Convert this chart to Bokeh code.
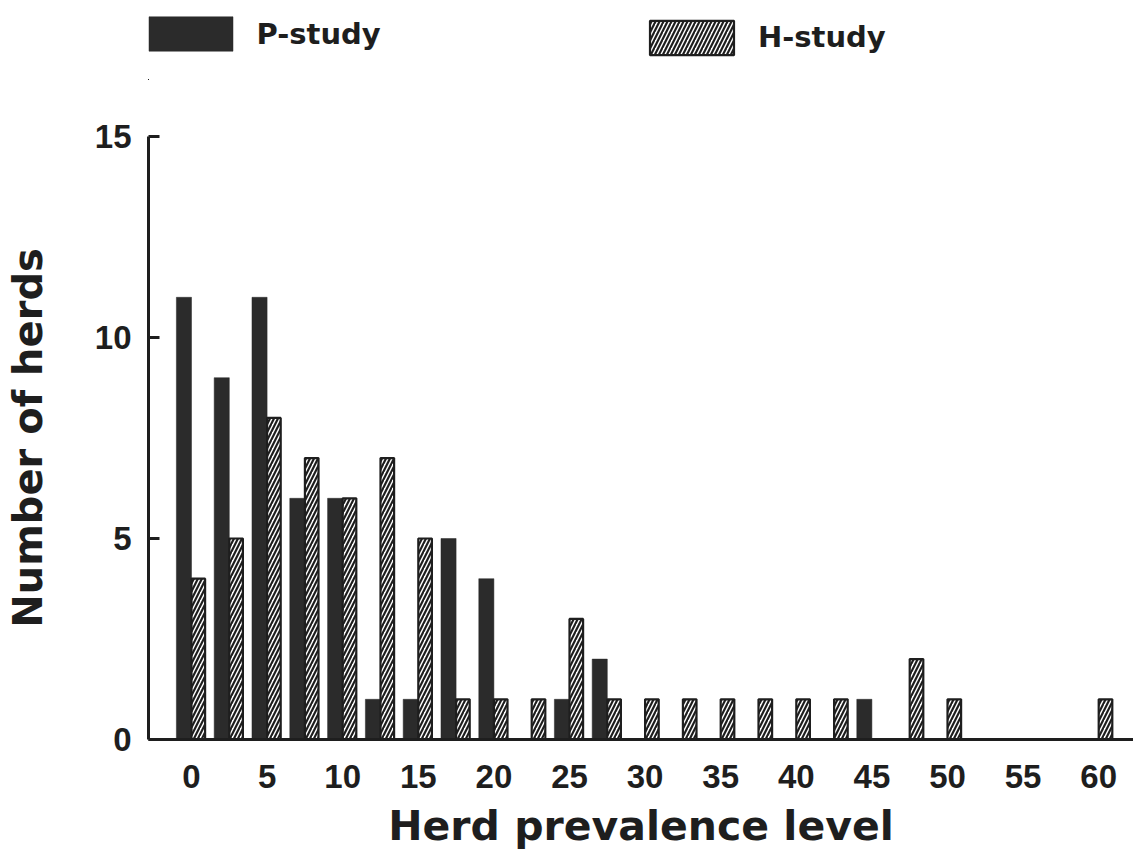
from bokeh.plotting import figure
from bokeh.layouts import column
from bokeh.models import FixedTicker, Legend, LegendItem, ColumnDataSource, Range1d
from bokeh.embed import file_html
from bokeh.resources import INLINE

# ---- data ----
levels = [0, 2.5, 5, 7.5, 10, 12.5, 15, 17.5, 20, 22.5, 25, 27.5, 30,
          32.5, 35, 37.5, 40, 42.5, 45, 47.5, 50, 52.5, 55, 57.5, 60]
p_study = [11, 9, 11, 6, 6, 1, 1, 5, 4, 0, 1, 2, 0,
           0, 0, 0, 0, 0, 1, 0, 0, 0, 0, 0, 0]
h_study = [4, 5, 8, 7, 6, 7, 5, 1, 1, 1, 3, 1, 1,
           1, 1, 1, 1, 1, 0, 2, 1, 0, 0, 0, 1]
x_tick_values = [0, 5, 10, 15, 20, 25, 30, 35, 40, 45, 50, 55, 60]
y_tick_values = [0, 5, 10, 15]
series_names = ["P-study", "H-study"]
x_title = "Herd prevalence level"
y_title = "Number of herds"

DARK = "#2b2b2b"
INK = "#1e1e1e"
TITLE_FONT = "DejaVu Sans"
TICK_FONT = "Liberation Sans"

P_STYLE = dict(fill_color=DARK, line_color=DARK, line_width=0.5)
H_STYLE = dict(fill_color="white", line_color=INK, line_width=2.2,
               hatch_pattern="/", hatch_color=INK, hatch_weight=2.2, hatch_scale=8)

W, H = 1133, 860
LEG_H = 80                      # height of the legend strip on top
LEFT, TOP, BOTTOM = 148, 136, 739
X0 = -2.844
X1 = X0 + (W - LEFT) / 15.12

p_src = ColumnDataSource(dict(
    x=[v - 0.5 for v, c in zip(levels, p_study) if c > 0],
    top=[c for c in p_study if c > 0]))
h_src = ColumnDataSource(dict(
    x=[v + 0.45 for v, c in zip(levels, h_study) if c > 0],
    top=[c for c in h_study if c > 0]))

# ---------------- legend strip (same series; its view range shows none of the bars) ----------------
pl = figure(width=W, height=LEG_H, x_range=Range1d(1000, 1001), y_range=Range1d(100, 101),
            x_axis_type=None, y_axis_type=None, output_backend="svg",
            toolbar_location=None, min_border=0)
pl.outline_line_color = None
pl.background_fill_color = "white"
pl.border_fill_color = "white"
lp = pl.vbar(x="x", top="top", bottom=0, width=1.0, source=p_src, **P_STYLE)
lh = pl.vbar(x="x", top="top", bottom=0, width=0.9, source=h_src, **H_STYLE)


def make_legend(name, renderer, loc):
    return Legend(items=[LegendItem(label=name, renderers=[renderer])],
                  location=loc, orientation="horizontal",
                  glyph_width=105, glyph_height=43, label_standoff=14,
                  padding=0, margin=0, spacing=0,
                  border_line_color=None, background_fill_alpha=0,
                  label_text_font=TITLE_FONT, label_text_font_style="bold",
                  label_text_font_size="29px", label_text_color=INK)


pl.add_layout(make_legend(series_names[0], lp, (-10.5, LEG_H - 55.25)))
pl.add_layout(make_legend(series_names[1], lh, (491, LEG_H - 58.5)))

# ---------------- main chart ----------------
MH = H - LEG_H
p = figure(width=W, height=MH,
           x_range=Range1d(X0, X1), y_range=Range1d(0, 15),
           output_backend="svg", toolbar_location=None,
           min_border_left=LEFT, min_border_right=0, min_border_top=TOP - LEG_H,
           min_border_bottom=H - BOTTOM)
p.outline_line_color = None
p.xgrid.visible = False
p.ygrid.visible = False
p.background_fill_color = "white"
p.border_fill_color = "white"

p.vbar(x="x", top="top", bottom=0, width=1.0, source=p_src, **P_STYLE)
p.vbar(x="x", top="top", bottom=0, width=0.9, source=h_src, **H_STYLE)

xa = p.xaxis[0]
xa.ticker = FixedTicker(ticks=x_tick_values)
xa.axis_line_width = 3
xa.axis_line_color = INK
xa.major_tick_in = 0
xa.major_tick_out = 0
xa.minor_tick_in = 0
xa.minor_tick_out = 0
xa.major_label_standoff = 25
xa.major_label_text_font = TICK_FONT
xa.major_label_text_font_style = "bold"
xa.major_label_text_font_size = "33px"
xa.major_label_text_color = INK
xa.axis_label = x_title
xa.axis_label_text_font = TITLE_FONT
xa.axis_label_text_font_style = "bold"
xa.axis_label_text_font_size = "41px"
xa.axis_label_text_color = INK
xa.axis_label_standoff = 11

ya = p.yaxis[0]
ya.ticker = FixedTicker(ticks=y_tick_values)
ya.bounds = (0, 15)
ya.axis_line_width = 3
ya.axis_line_color = INK
ya.major_tick_in = 11
ya.major_tick_out = 0
ya.major_tick_line_width = 3
ya.major_tick_line_color = INK
ya.minor_tick_in = 0
ya.minor_tick_out = 0
ya.major_label_standoff = 17
ya.major_label_text_font = TICK_FONT
ya.major_label_text_font_style = "bold"
ya.major_label_text_font_size = "33px"
ya.major_label_text_color = INK
ya.axis_label = y_title
ya.axis_label_text_font = TITLE_FONT
ya.axis_label_text_font_style = "bold"
ya.axis_label_text_font_size = "40px"
ya.axis_label_text_color = INK
ya.axis_label_standoff = 41

layout = column(pl, p, spacing=0)
open("out.html", "w").write(file_html(layout, INLINE))
